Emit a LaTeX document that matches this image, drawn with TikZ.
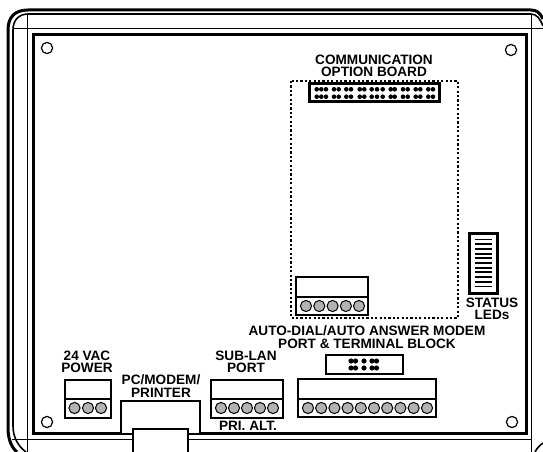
\documentclass[tikz,border=0pt]{standalone}
\usepackage{fontspec}
\setmainfont{Liberation Sans}
\tikzset{
  thickline/.style={line width=3pt,black},
  medline/.style={line width=1.6pt,black},
  thinline/.style={line width=1pt,black},
  pin/.style={draw=black,line width=1pt,fill=black!30},
  hole/.style={draw=black,line width=1.2pt,fill=white},
  pt/.style={fill=black},
  lbl/.style={font=\fontsize{13.6}{12.6}\selectfont\bfseries,align=center,inner sep=0pt},
  dashbox/.style={line width=1.05pt,dash pattern=on 2.2pt off 2.2pt},
  termbox/.style={line width=2.9pt,fill=white}
}
\newcommand{\terminal}[7]{% x0 x1 ytop ydiv ybot pin-list y
  \draw[termbox] (#1,#3) rectangle (#2,#5);
  \draw[line width=2.9pt] (#1,#4) -- (#2,#4);
  \foreach \px in {#6} \draw[pin] (\px,#7) circle (5.6pt);
}
\begin{document}
\begin{tikzpicture}[x=1pt,y=-1pt]
\useasboundingbox (0,0) rectangle (543,452);
% outer frame
\draw[thickline] (543,19) .. controls (540,13) and (537,10) .. (531,10) -- (28,10) .. controls (15,10) and (8,17) .. (8,30) -- (8,428) .. controls (8,440) and (12,448) .. (17,452);
\draw[medline] (543,26) .. controls (540,19) and (537,14) .. (531,14) -- (28,14) .. controls (19,14) and (13,20) .. (13,30) -- (13,426) .. controls (13,438) and (19,447) .. (26,452);
\draw[thinline] (13,29) -- (543,29);
\draw[thinline] (27,14) -- (27,452);
\draw[thinline] (531,14) -- (531,452);
\draw[thinline] (12,439) -- (531,439);
\draw[medline] (535,452) .. controls (537,448) and (540,445) .. (543,443);
% inner panel
\draw[line width=3pt] (33,35) rectangle (526,433);
% corner holes
\foreach \hx/\hy in {47/48,511/50,47/422,512/422} \draw[hole] (\hx,\hy) circle (5.6pt);
% option board
\draw[dashbox] (291,81) rectangle (458,318);
\draw[line width=3pt] (309.5,83.5) rectangle (439.5,101.5);
\foreach \dx in {316.7,321.3,326,334,338.7,346.3,351,359.7,364.3,371.7,377,382.7,390.7,394.7,403,407.7,415.7,420.3,428.3,433}
  \foreach \dy in {89.3,96.7}
    \fill[pt] (\dx,\dy) circle (2.3pt);
\terminal{296}{368}{277}{297}{315}{306,319.3,332.6,345.9,359}{306}
% status LEDs
\draw[line width=3pt] (469,233) rectangle (497,293);
\foreach \ly in {239.5,244.2,248.9,253.6,258.3,263,267.7,272.4,277.1,281.8,286.5}
  \draw[line width=1.9pt] (474.5,\ly) -- (492,\ly);
% modem header
\draw[line width=2.9pt] (326,355) rectangle (403,374);
\foreach \dx in {351,355.5,364,372,376.5}
  \foreach \dy in {361,368}
    \fill[pt] (\dx,\dy) circle (2.6pt);
% terminals
\terminal{65}{111}{380}{399}{418}{74.5,88,101}{408}
\terminal{211}{283}{380}{399}{418}{221,234,247,260,273}{408}
\terminal{298}{436}{379}{399}{417}{308,321.2,334.4,347.6,360.8,374,387.2,400.4,413.6,427}{408}
% PC port
\draw[line width=2.9pt,fill=white] (121,433) -- (121,401) -- (200,401) -- (200,433);
\draw[line width=2.9pt,fill=white] (133,452) -- (133,429) -- (188,429) -- (188,452);
% labels
\node[lbl] (comm) at (374,66) {COMMUNICATION\\OPTION BOARD};
\node[lbl] (status) at (492,309) {STATUS\\LEDs};
\node[lbl] (modem) at (367,337) {AUTO-DIAL/AUTO ANSWER MODEM\\PORT \& TERMINAL BLOCK};
\node[lbl] (vac) at (87,362) {24 VAC\\POWER};
\node[lbl] (sublan) at (246,362) {SUB-LAN\\PORT};
\node[lbl] (pcm) at (161,386) {PC/MODEM/\\PRINTER};
\node[lbl] (prialt) at (248,426) {PRI. ALT.};
\end{tikzpicture}
\end{document}
